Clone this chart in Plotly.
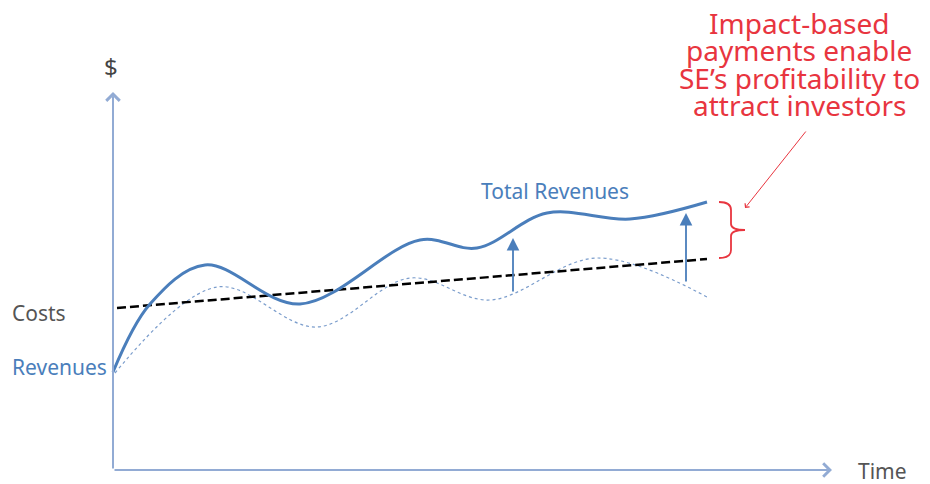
import plotly.graph_objects as go

# ---- data (conceptual values; x = time units, y = $ units) ----
total_time = [113, 150, 205, 300, 420, 477, 547, 630, 707]
total_rev = [112, 180, 219, 180, 244, 236, 271, 265, 282]

base_time = [115, 217, 317, 410, 490, 597, 707]
base_rev = [111, 197, 157, 206, 184, 226, 187]

cost_time = [117, 707]
cost_val = [176, 225]

gap_time = [513, 686]
gap_low = [191, 201]
gap_high = [246, 271]

callout_lines = ["Impact-based", "payments enable", "SE’s profitability to", "attract investors"]

BLUE = "#4a7ebb"
AXIS = "#92abd4"
RED = "#e8353f"
GREY = "#555555"
FONT = "Noto Sans"

fig = go.Figure()

fig.add_trace(go.Scatter(x=base_time, y=base_rev, mode="lines",
                         line=dict(shape="spline", smoothing=1.0, color="#7b9dcc", width=1.2, dash="dot"),
                         hoverinfo="skip"))
fig.add_trace(go.Scatter(x=cost_time, y=cost_val, mode="lines",
                         line=dict(color="black", width=2.5, dash="9px,4px"), hoverinfo="skip"))
fig.add_trace(go.Scatter(x=total_time, y=total_rev, mode="lines",
                         line=dict(shape="spline", smoothing=1.0, color=BLUE, width=3),
                         hoverinfo="skip"))

ann = []
# axes
ann.append(dict(x=113, y=392, ax=113, ay=14, xref="x", yref="y", axref="x", ayref="y",
                showarrow=True, arrowhead=4, arrowsize=1.3, arrowwidth=2, arrowcolor=AXIS, text=""))
ann.append(dict(x=832, y=14, ax=113, ay=14, xref="x", yref="y", axref="x", ayref="y",
                showarrow=True, arrowhead=4, arrowsize=1.3, arrowwidth=2, arrowcolor=AXIS, text=""))
# gap arrows
for t, lo, hi in zip(gap_time, gap_low, gap_high):
    ann.append(dict(x=t, y=hi, ax=t, ay=lo, xref="x", yref="y", axref="x", ayref="y",
                    showarrow=True, arrowhead=2, arrowsize=1.4, arrowwidth=1.8, arrowcolor=BLUE, text=""))
# red pointer
ann.append(dict(x=745, y=276, ax=807, ay=354, xref="x", yref="y", axref="x", ayref="y",
                showarrow=True, arrowhead=4, arrowsize=1.1, arrowwidth=1, arrowcolor=RED, text=""))

ann.append(dict(x=111, y=418, text="$", showarrow=False, font=dict(family=FONT, size=24, color="#444")))
ann.append(dict(x=856, y=13, text="Time", showarrow=False, xanchor="left",
                font=dict(family=FONT, size=21, color=GREY)))
ann.append(dict(x=10, y=171, text="Costs", showarrow=False, xanchor="left",
                font=dict(family=FONT, size=21, color=GREY)))
ann.append(dict(x=10, y=117, text="Revenues", showarrow=False, xanchor="left",
                font=dict(family=FONT, size=21, color=BLUE)))
ann.append(dict(x=555, y=293, text="Total Revenues", showarrow=False,
                font=dict(family=FONT, size=21, color=BLUE)))
for i, line in enumerate(callout_lines):
    ann.append(dict(x=799, y=461 - 27.3 * i, text=line, showarrow=False, yanchor="middle",
                    font=dict(family=FONT, size=28, color=RED)))

# brace
bt, bb, bx0, bx1 = 282, 226, 719, 745
bm = (bt + bb) / 2
bxm = (bx0 + bx1) / 2 - 1
path = (f"M {bx0},{bt} Q {bxm},{bt} {bxm},{bt-8} L {bxm},{bm+6} Q {bxm},{bm} {bx1},{bm} "
        f"Q {bxm},{bm} {bxm},{bm-6} L {bxm},{bb+8} Q {bxm},{bb} {bx0},{bb}")

fig.update_layout(
    width=930, height=484, margin=dict(l=0, r=0, t=0, b=0, pad=0, autoexpand=False),
    plot_bgcolor="white", paper_bgcolor="white", showlegend=False,
    xaxis=dict(range=[0, 930], visible=False, fixedrange=True),
    yaxis=dict(range=[0, 484], visible=False, fixedrange=True),
    annotations=ann,
    shapes=[dict(type="path", path=path, xref="x", yref="y", line=dict(color=RED, width=1.8))],
)

fig.write_html("out.html", config={"displayModeBar": False},
               post_script="document.body.style.margin='0';document.body.style.overflow='hidden';")
